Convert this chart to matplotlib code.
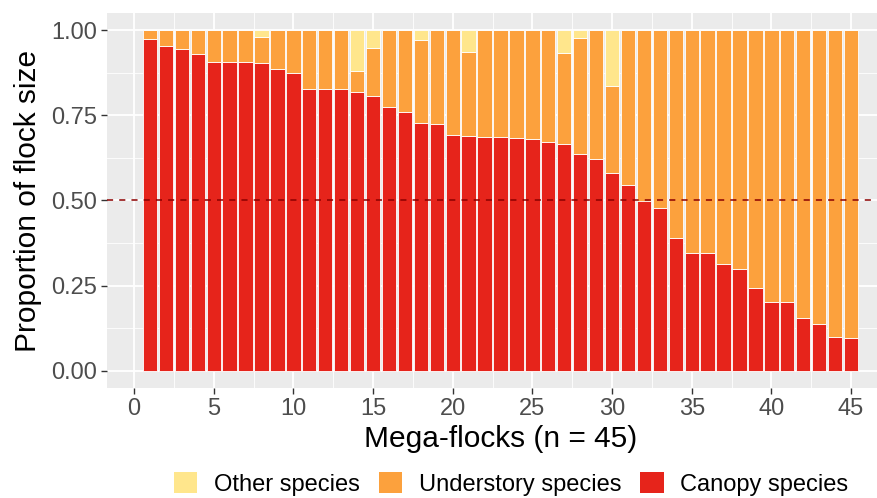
import numpy as np
import matplotlib.pyplot as plt
from matplotlib.patches import Patch
from matplotlib.ticker import MultipleLocator

plt.rcParams['font.family'] = ['Liberation Sans', 'DejaVu Sans']

flock = np.arange(1, 46)
canopy = [0.974, 0.952, 0.945, 0.930, 0.907, 0.905, 0.905, 0.904, 0.886, 0.873,
          0.826, 0.826, 0.826, 0.818, 0.806, 0.773, 0.760, 0.728, 0.723, 0.692,
          0.689, 0.686, 0.685, 0.682, 0.680, 0.672, 0.667, 0.636, 0.622, 0.582,
          0.546, 0.500, 0.478, 0.390, 0.347, 0.346, 0.315, 0.299, 0.244, 0.202,
          0.202, 0.154, 0.138, 0.100, 0.096]
understory = [0.026, 0.048, 0.055, 0.070, 0.093, 0.095, 0.095, 0.076, 0.114, 0.127,
              0.174, 0.174, 0.174, 0.062, 0.140, 0.227, 0.240, 0.242, 0.277, 0.308,
              0.248, 0.314, 0.315, 0.318, 0.320, 0.328, 0.265, 0.341, 0.378, 0.255,
              0.454, 0.500, 0.522, 0.610, 0.653, 0.654, 0.685, 0.701, 0.756, 0.798,
              0.798, 0.846, 0.862, 0.900, 0.904]
other = [0, 0, 0, 0, 0, 0, 0, 0.020, 0, 0,
         0, 0, 0, 0.120, 0.054, 0, 0, 0.030, 0, 0,
         0.063, 0, 0, 0, 0, 0, 0.068, 0.023, 0, 0.163,
         0, 0, 0, 0, 0, 0, 0, 0, 0, 0,
         0, 0, 0, 0, 0]

labels = ['Other species', 'Understory species', 'Canopy species']
colors = ['#FFE68C', '#FCA13D', '#E6241B']

fig = plt.figure(figsize=(8.77, 4.98), dpi=100)
ax = fig.add_axes([107 / 877, 110 / 498, 787 / 877, 375 / 498])
ax.set_facecolor('#EBEBEB')

canopy = np.array(canopy)
understory = np.array(understory)
other = np.array(other)
bar_kw = dict(width=0.9, edgecolor='white', linewidth=0.6, zorder=3)
ax.bar(flock, canopy, color=colors[2], **bar_kw)
ax.bar(flock, understory, bottom=canopy, color=colors[1], **bar_kw)
ax.bar(flock, other, bottom=canopy + understory, color=colors[0], **bar_kw)

ax.axhline(0.5, color='#8B0000', linestyle=(0, (4, 4)), linewidth=1.1, zorder=4)

ax.set_xlim(-1.695, 47.695)
ax.set_ylim(-0.05, 1.05)
ax.xaxis.set_major_locator(MultipleLocator(5))
ax.xaxis.set_minor_locator(MultipleLocator(2.5))
ax.yaxis.set_major_locator(MultipleLocator(0.25))
ax.yaxis.set_minor_locator(MultipleLocator(0.125))
ax.set_yticks([0, 0.25, 0.5, 0.75, 1.0])
ax.set_yticklabels(['0.00', '0.25', '0.50', '0.75', '1.00'])
ax.grid(which='major', color='white', linewidth=1.3, zorder=0)
ax.grid(which='minor', color='white', linewidth=0.6, zorder=0)
ax.set_axisbelow(True)
for s in ax.spines.values():
    s.set_visible(False)
ax.tick_params(which='major', length=4, width=1, color='#333333',
               labelsize=17, labelcolor='#4D4D4D', pad=3)
ax.tick_params(which='minor', length=0)

ax.set_xlabel('Mega-flocks (n = 45)', fontsize=21.5, labelpad=4)
ax.set_ylabel('Proportion of flock size', fontsize=21.5, labelpad=7)

handles = [Patch(facecolor=c, edgecolor='none') for c in colors]
fig.legend(handles, labels, loc='center', bbox_to_anchor=(511 / 877, 14 / 498),
           ncol=3, frameon=False, fontsize=17, handlelength=1.0, handleheight=1.0,
           handletextpad=0.7, columnspacing=0.8, borderpad=0)

fig.savefig('out.png', dpi=100)
